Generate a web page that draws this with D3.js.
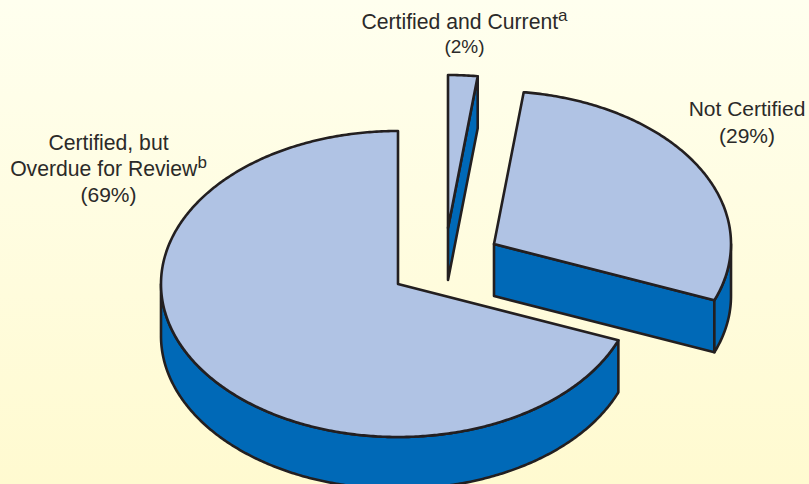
<!DOCTYPE html>
<html>
<head>
<meta charset="utf-8">
<script src="https://d3js.org/d3.v7.min.js"></script>
<style>
html, body { margin: 0; padding: 0; background: #fffbd6; }
svg { display: block; }
text { font-family: "Liberation Sans", Arial, sans-serif; fill: #2b2a29; }
</style>
</head>
<body>
<svg id="chart" width="809" height="484"></svg>
<script>
// Certification status shares, clockwise from twelve o'clock
const categories = ["Certified and Current", "Not Certified", "Certified, but Overdue for Review"];
const shares = [2, 29, 69];

// Label lines: main text, optional superscript marker
const labelLines = [
  [["Certified and Current", "a"], ["(2%)", ""]],
  [["Not Certified", ""], ["(29%)", ""]],
  [["Certified, but", ""], ["Overdue for Review", "b"], ["(69%)", ""]]
];

// Layout of the tilted pie
const W = 809, H = 484;
const rx = 237, ry = 153, depth = 52;
const centres = [[448, 228], [494, 244], [398, 284]];
const labelAnchors = [[464.5, 29], [747, 116], [108.5, 150]];
const lineSteps = [[24], [27], [26, 26]];
const labelSizes = [[21.2, 19], [21, 21], [21.2, 21.2, 21]];

const topFill = "#b0c3e4", sideFill = "#0069b7", ink = "#231f20";

const svg = d3.select("#chart");
const defs = svg.append("defs");
const wash = defs.append("linearGradient").attr("id", "wash")
  .attr("x1", 0).attr("y1", 0).attr("x2", 0).attr("y2", 1);
wash.append("stop").attr("offset", 0).attr("stop-color", "#ffffef");
wash.append("stop").attr("offset", 1).attr("stop-color", "#fffad0");
svg.append("rect").attr("width", W).attr("height", H).attr("fill", "url(#wash)");

const slices = d3.pie().sort(null).value(d => d)(shares);
const line = d3.line();
const TAU = Math.PI * 2;

// Project a pie angle onto the flattened ellipse around a centre
const project = (c, a, drop = 0) => [c[0] + rx * Math.sin(a), c[1] - ry * Math.cos(a) + drop];

function arcPoints(c, a0, a1, drop = 0) {
  const n = Math.max(2, Math.ceil((a1 - a0) / 0.01));
  return d3.range(n + 1).map(i => project(c, a0 + (a1 - a0) * i / n, drop));
}

const faces = svg.append("g")
  .attr("stroke", ink).attr("stroke-width", 2.6).attr("stroke-linejoin", "round");

slices.forEach((s, i) => {
  const c = centres[i];
  const g = faces.append("g");

  // Radial cut wall, visible only when the cut faces the viewer
  if (s.endAngle > 0 && s.endAngle < Math.PI) {
    const e = project(c, s.endAngle);
    const eLow = project(c, s.endAngle, depth);
    g.append("path")
      .attr("d", line([c, e, eLow, [c[0], c[1] + depth]]) + "Z")
      .attr("fill", sideFill);
  }

  // Outer rim wall on the front half of the ellipse
  const a0 = Math.max(s.startAngle, Math.PI / 2);
  const a1 = Math.min(s.endAngle, Math.PI * 1.5);
  if (a1 > a0) {
    const upper = arcPoints(c, a0, a1);
    const lower = arcPoints(c, a0, a1, depth).reverse();
    g.append("path")
      .attr("d", line(upper.concat(lower)) + "Z")
      .attr("fill", sideFill);
  }

  // Top face
  g.append("path")
    .attr("d", line([c].concat(arcPoints(c, s.startAngle, Math.min(s.endAngle, TAU)))) + "Z")
    .attr("fill", topFill);
});

// Labels with optional superscript marker
labelLines.forEach((lines, i) => {
  const [x, y0] = labelAnchors[i];
  let y = y0;
  lines.forEach((ln, j) => {
    if (j > 0) y += lineSteps[i][j - 1];
    const t = svg.append("text")
      .attr("x", x).attr("y", y)
      .attr("text-anchor", "middle")
      .attr("font-size", labelSizes[i][j])
      .text(ln[0]);
    if (ln[1]) {
      t.append("tspan").attr("dy", -8).attr("font-size", 17).text(ln[1]);
    }
  });
});
</script>
</body>
</html>
